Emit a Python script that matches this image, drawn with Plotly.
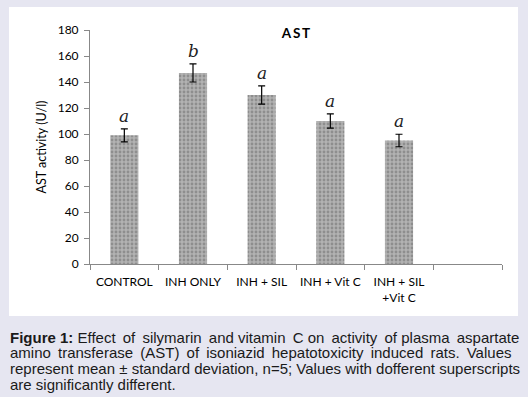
import plotly.graph_objects as go

categories = ["CONTROL", "INH ONLY", "INH + SIL", "INH + Vit C", "INH + SIL<br>+Vit C", " "]
values = [99, 147, 130, 110, 95, None]
errors = [5, 7, 7, 5.5, 4.8, None]
letters = ["a", "b", "a", "a", "a", ""]
yticks = [0, 20, 40, 60, 80, 100, 120, 140, 160, 180]
caption_lines = [
    "<b>Figure 1:</b> Effect\u2009 of\u2009 silymarin\u2009 and vitamin\u2009 C on\u2009 activity\u2009 of plasma\u2009 aspartate",
    "amino\u2009 transferase\u2009 (AST)\u2009 of\u2009 isoniazid\u2009 hepatotoxicity\u2009 induced\u2009 rats.\u2009 Values",
    "represent mean ± standard deviation, n=5; Values with dofferent superscripts",
    "are significantly different.",
]

fig = go.Figure()
fig.add_trace(go.Bar(
    x=categories, y=values,
    marker=dict(color="#A8A8A8", line=dict(width=0),
                pattern=dict(shape=".", fgcolor="#6A6A6A", bgcolor="#B2B2B2", size=4, solidity=0.4)),
    error_y=dict(type="data", array=errors, visible=True, color="black", thickness=1.2, width=3.5),
    showlegend=False,
))

for c, v, e, l in zip(categories, values, errors, letters):
    if v is None:
        continue
    fig.add_annotation(x=c, y=v + e, text="<i>" + l + "</i>", showarrow=False,
                       yanchor="bottom", yshift=1,
                       font=dict(family="DejaVu Serif, serif", size=17, color="#1F1F1F"))

# white panel
fig.add_shape(type="rect", xref="paper", yref="paper", layer="below",
              x0=-81/412, x1=(518-90)/412, y0=(264-316)/234, y1=(264-7)/234,
              fillcolor="white", line=dict(width=0))

for i, line in enumerate(caption_lines):
    fig.add_annotation(xref="paper", yref="paper", x=(8-90)/412, y=(264-(337+i*15.7))/234,
                       xanchor="left", yanchor="middle", showarrow=False, align="left",
                       text=line, font=dict(family="Liberation Sans, Arial", size=15, color="#1A1A1A"))

fig.update_layout(
    width=528, height=397,
    margin=dict(l=90, r=26, t=30, b=133),
    paper_bgcolor="#E6E6F1", plot_bgcolor="white",
    bargap=0.59,
    font=dict(family="Lato, Open Sans, sans-serif", size=12, color="black"),
    title=dict(text="<b>A\u2009S\u2009T</b>", x=0.5, xref="paper", xanchor="center",
               y=1 - 33/397, yanchor="middle", font=dict(size=13.5, family="Lato")),
)
fig.update_yaxes(range=[0, 180], tickvals=yticks, showline=True, linecolor="#888888", linewidth=1,
                 ticks="outside", ticklen=5, tickcolor="#888888", showgrid=False, zeroline=False,
                 ticklabelstandoff=3,
                 title=dict(text="AST activity (U/l)", standoff=8, font=dict(size=12.5)))
fig.update_xaxes(showline=True, linecolor="#888888", linewidth=1, ticks="outside", ticklen=5,
                 tickcolor="#888888", tickson="boundaries", showgrid=False, tickangle=0,
                 ticklabelstandoff=7,
                 categoryorder="array", categoryarray=categories)

fig.write_html("out.html", config={"displayModeBar": False},
               post_script="document.body.style.margin='0';document.body.style.overflow='hidden';document.body.style.background='#E6E6F1';")
